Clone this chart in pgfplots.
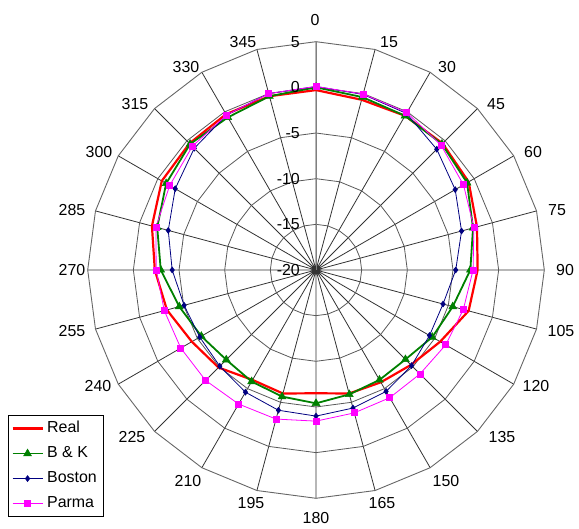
\documentclass[border=0pt]{standalone}
\usepackage{fontspec}
\setmainfont{Liberation Sans}
\usepackage{pgfplots}
\usepgfplotslibrary{polar}
\pgfplotsset{compat=1.18}
\usepackage{pgfplotstable}
\definecolor{cReal}{RGB}{255,0,0}
\definecolor{cBK}{RGB}{0,128,0}
\definecolor{cBoston}{RGB}{0,0,128}
\definecolor{cParma}{RGB}{255,0,255}

\pgfplotstableread{
a real bk boston parma
0 -0.3 0.0 0.1 0.1
15 -0.7 -0.4 -0.1 -0.05
30 -0.5 -0.5 -0.2 -0.1
45 -0.4 -0.5 -1.3 -0.65
60 -0.7 -0.9 -2.4 -1.35
75 -1.75 -2.2 -3.5 -2.1
90 -2.3 -3.1 -4.7 -2.8
105 -2.7 -4.5 -5.6 -3.3
120 -4.3 -5.3 -5.65 -3.6
135 -5.3 -6.15 -5.2 -3.9
150 -5.8 -6.1 -4.65 -3.85
165 -6.0 -5.9 -4.35 -3.8
180 -6.5 -5.4 -4.0 -3.45
195 -6.0 -5.65 -4.1 -3.1
210 -6.1 -5.9 -4.55 -3.05
225 -4.9 -6.1 -5.1 -2.9
240 -4.3 -5.5 -5.3 -2.9
255 -3.1 -4.5 -5.05 -2.8
270 -2.35 -3.0 -4.25 -2.5
285 -1.4 -2.0 -3.25 -1.85
300 -0.5 -1.05 -2.2 -1.5
315 -0.4 -0.5 -1.15 -0.85
330 -0.3 -0.7 -0.4 -0.4
345 -0.3 -0.3 0.0 0.0
360 -0.3 0.0 0.1 0.1
}\data

\pgfplotstableread{
a r5 r10 r15 r20 r25
0 5 10 15 20 25
15 5 10 15 20 25
30 5 10 15 20 25
45 5 10 15 20 25
60 5 10 15 20 25
75 5 10 15 20 25
90 5 10 15 20 25
105 5 10 15 20 25
120 5 10 15 20 25
135 5 10 15 20 25
150 5 10 15 20 25
165 5 10 15 20 25
180 5 10 15 20 25
195 5 10 15 20 25
210 5 10 15 20 25
225 5 10 15 20 25
240 5 10 15 20 25
255 5 10 15 20 25
270 5 10 15 20 25
285 5 10 15 20 25
300 5 10 15 20 25
315 5 10 15 20 25
330 5 10 15 20 25
345 5 10 15 20 25
360 5 10 15 20 25
}\rings

\begin{document}
\begin{tikzpicture}[x=1bp,y=1bp]
\useasboundingbox (0,0) rectangle (579,529);
\begin{polaraxis}[
  at={(316bp,259bp)}, anchor=center,
  scale only axis, width=456.6bp, height=456.6bp,
  xmin=0, xmax=360, ymin=0, ymax=25,
  xtick={0,15,...,345},
  xticklabels={},
  ytick=\empty,
  xmajorgrids, ymajorgrids=false,
  major grid style={black!80, line width=0.8bp},
  axis line style={draw=none},
  major tick length=0pt,
  clip=false,
  legend image code/.code={\draw[mark repeat=2,mark phase=2,#1] plot coordinates {(0bp,0bp)(15bp,0bp)(30bp,0bp)};},
  legend style={at={(axis cs:218.73,43.23)}, anchor=south west, draw=black, line width=0.8bp, fill=white,
    font=\fontsize{16}{18}\selectfont, legend cell align=left,
    inner xsep=3bp, inner ysep=3.5bp, row sep=6bp,
    nodes={inner xsep=3.5bp, inner ysep=2bp, text height=11.5bp, text depth=3.5bp}},
]
\addplot[black!65, line width=0.8bp, no marks, forget plot] table[x=a, y=r5] {\rings};
\addplot[black!65, line width=0.8bp, no marks, forget plot] table[x=a, y=r10] {\rings};
\addplot[black!65, line width=0.8bp, no marks, forget plot] table[x=a, y=r15] {\rings};
\addplot[black!65, line width=0.8bp, no marks, forget plot] table[x=a, y=r20] {\rings};
\addplot[black!60, line width=0.9bp, no marks, forget plot] table[x=a, y=r25] {\rings};
\addplot[black!50, line width=0.9bp, no marks, forget plot] coordinates {(90,0) (90,25)};

\addplot[cReal, line width=2.2bp, no marks] table[x expr={90-\thisrow{a}}, y expr={\thisrow{real}+20}] {\data};
\addlegendentry{Real}
\addplot[cBK, line width=1.8bp, mark=triangle*, mark size=4.5bp, mark options={solid, fill=cBK, line width=0.5bp}] table[x expr={90-\thisrow{a}}, y expr={\thisrow{bk}+20}] {\data};
\addlegendentry{B \& K}
\addplot[cBoston, line width=0.8bp, mark=diamond*, mark size=2.8bp, mark options={solid, fill=cBoston}] table[x expr={90-\thisrow{a}}, y expr={\thisrow{boston}+20}] {\data};
\addlegendentry{Boston}
\addplot[cParma, line width=0.8bp, mark=square*, mark size=3bp, mark options={solid, fill=cParma}] table[x expr={90-\thisrow{a}}, y expr={\thisrow{parma}+20}] {\data};
\addlegendentry{Parma}

\begin{scope}[every node/.style={anchor=east, xshift=-14bp, inner sep=2bp, font=\fontsize{16}{18}\selectfont}]
\node at (axis cs:90,25) {5};
\node at (axis cs:90,20) {0};
\node at (axis cs:90,15) {-5};
\node at (axis cs:90,10) {-10};
\node at (axis cs:90,5) {-15};
\node at (axis cs:90,0) {-20};
\end{scope}
\end{polaraxis}
\begin{scope}[every node/.style={anchor=center, inner sep=0pt, font=\fontsize{16}{18}\selectfont}]
\node at (315,509) {0};
\node at (389,487) {15};
\node at (447,462) {30};
\node at (496,425) {45};
\node at (533,377) {60};
\node at (557,319) {75};
\node at (565,259) {90};
\node at (561,198) {105};
\node at (536,143) {120};
\node at (502,92) {135};
\node at (446,48) {150};
\node at (382,26) {165};
\node at (316,11) {180};
\node at (251,26) {195};
\node at (188,48) {210};
\node at (132,92) {225};
\node at (98,143) {240};
\node at (72,198) {255};
\node at (72,259) {270};
\node at (72,319) {285};
\node at (99,377) {300};
\node at (135,425) {315};
\node at (186,462) {330};
\node at (243,487) {345};
\end{scope}
\end{tikzpicture}
\end{document}
